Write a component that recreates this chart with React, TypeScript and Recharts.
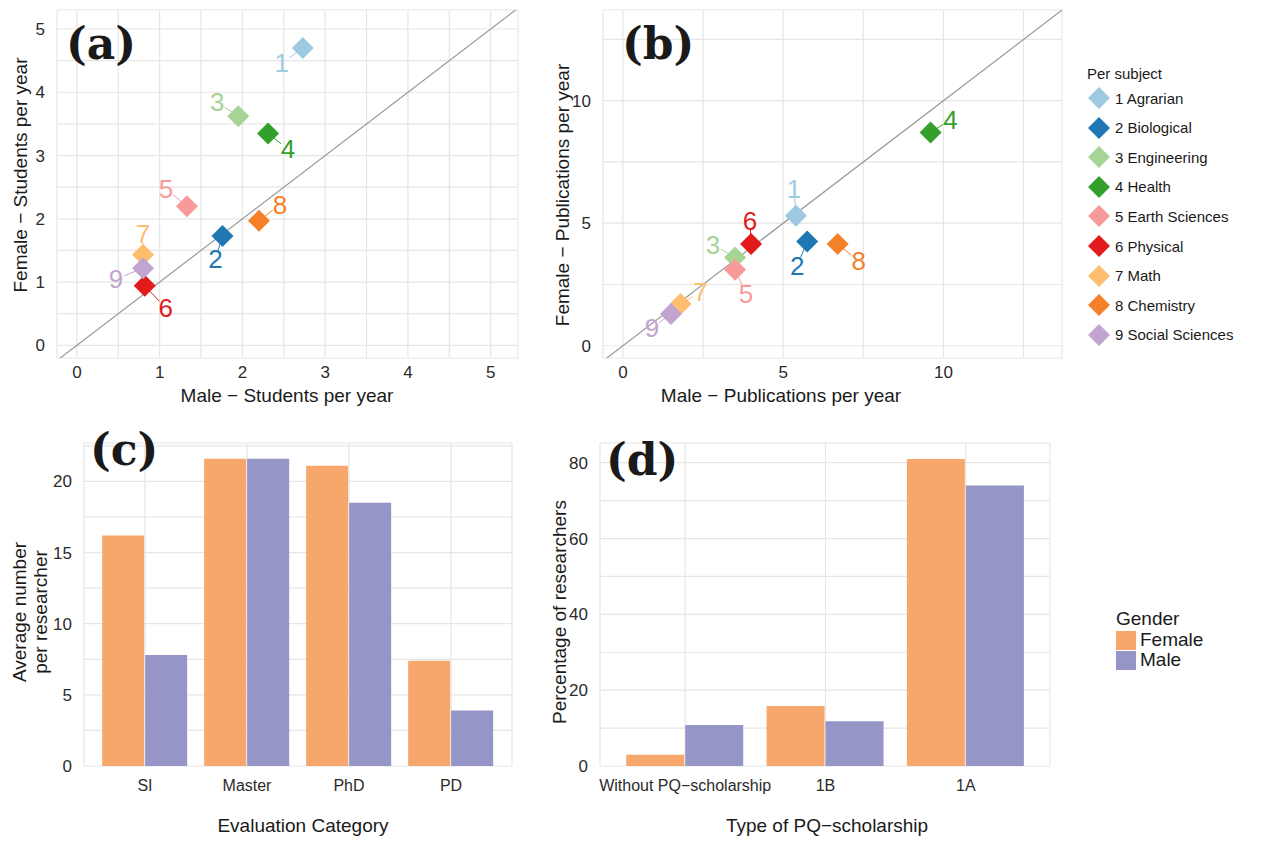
import React from "react";
import {
  ScatterChart,
  Scatter,
  BarChart,
  Bar,
  XAxis,
  YAxis,
  CartesianGrid,
  ReferenceLine,
} from "recharts";

const subjects = ["1 Agrarian", "2 Biological", "3 Engineering", "4 Health", "5 Earth Sciences", "6 Physical", "7 Math", "8 Chemistry", "9 Social Sciences"];
const subjectColors = ["#9ecae1", "#1f78b4", "#a6d495", "#33a02c", "#f89a99", "#e31a1c", "#fdbf6f", "#f5802a", "#c2a5cf"];

const studentsMale = [2.73, 1.76, 1.95, 2.31, 1.33, 0.82, 0.8, 2.2, 0.8];
const studentsFemale = [4.7, 1.73, 3.62, 3.35, 2.2, 0.94, 1.43, 1.97, 1.22];
const pubsMale = [5.4, 5.75, 3.5, 9.6, 3.5, 4.0, 1.8, 6.7, 1.5];
const pubsFemale = [5.3, 4.25, 3.6, 8.7, 3.1, 4.15, 1.7, 4.15, 1.3];

// label offsets (px) from each marker
const labelOffA = [[-21, 15], [-7, 23], [-21, -14], [20, 16], [-21, -17], [21, 22], [0, -21], [21, -16], [-27, 11]];
const labelOffB = [[-2, -27], [-10, 24], [-22, -13], [20, -13], [11, 24], [-1, -23], [20, -12], [21, 17], [-19, 14]];

const evalCats = ["SI", "Master", "PhD", "PD"];
const evalFemale = [16.2, 21.6, 21.1, 7.4];
const evalMale = [7.8, 21.6, 18.5, 3.9];

const pqCats = ["Without PQ\u2212scholarship", "1B", "1A"];
const pqFemale = [3, 15.8, 81];
const pqMale = [10.8, 11.8, 74];

const FEMALE = "#f8a76c";
const MALE = "#9595c8";
const FONT = "'Liberation Sans', Arial, sans-serif";
const GRID = "#e6e6e6";
const TICK = { fill: "#2b2b2b", fontSize: 17, fontFamily: FONT };

const dataA = studentsMale.map((x, i) => ({ x, y: studentsFemale[i], i }));
const dataB = pubsMale.map((x, i) => ({ x, y: pubsFemale[i], i }));
const dataC = evalCats.map((c, i) => ({ c, Female: evalFemale[i], Male: evalMale[i] }));
const dataD = pqCats.map((c, i) => ({ c, Female: pqFemale[i], Male: pqMale[i] }));

const makeShape = (offs: number[][]) => (props: any) => {
  const { cx, cy, payload } = props;
  const i = payload.i;
  const [dx, dy] = offs[i];
  const col = subjectColors[i];
  const len = Math.hypot(dx, dy);
  const r = 11;
  return (
    <g>
      <line x1={cx} y1={cy} x2={cx + (dx * (len - 9)) / len} y2={cy + (dy * (len - 9)) / len} stroke={col} strokeWidth={1} />
      <polygon points={`${cx},${cy - r} ${cx + r},${cy} ${cx},${cy + r} ${cx - r},${cy}`} fill={col} />
      <text x={cx + dx} y={cy + dy} fill={col} fontSize={26} fontFamily={FONT} textAnchor="middle" dominantBaseline="central">
        {i + 1}
      </text>
    </g>
  );
};

const range = (a: number, b: number, s: number) => {
  const out: number[] = [];
  for (let v = a; v <= b + 1e-9; v += s) out.push(Math.round(v * 100) / 100);
  return out;
};

const abs = (l: number, t: number, extra: React.CSSProperties = {}): React.CSSProperties => ({
  position: "absolute",
  left: l,
  top: t,
  fontFamily: FONT,
  color: "#1a1a1a",
  whiteSpace: "nowrap",
  ...extra,
});

const panelLetter = (s: string, l: number, t: number) => (
  <div style={abs(l, t, { fontFamily: "'DejaVu Serif', serif", fontWeight: "bold", fontSize: 44 })}>{s}</div>
);

const rotTitle = (s: string, cx: number, cy: number) => (
  <div style={abs(cx, cy, { fontSize: 19, transform: "translate(-50%,-50%) rotate(-90deg)", textAlign: "center", lineHeight: "21px", whiteSpace: "pre" })}>{s}</div>
);

const hTitle = (s: string, cx: number, t: number) => (
  <div style={abs(cx, t, { fontSize: 19, transform: "translateX(-50%)" })}>{s}</div>
);

export default function App() {
  const ticksA = range(0, 5, 0.5);
  const ticksB = range(0, 12.5, 2.5);
  return (
    <div style={{ position: "absolute", left: 0, top: 0, width: 1268, height: 842, background: "#fff", overflow: "hidden" }}>
      <div style={{ position: "absolute", left: 0, top: 0 }}>
        <ScatterChart width={530} height={410} margin={{ top: 10, right: 12, left: 17, bottom: 0 }}>
          <CartesianGrid stroke={GRID} strokeWidth={1.2} />
          <XAxis type="number" dataKey="x" domain={[-0.24, 5.33]} ticks={ticksA} interval={0} height={52} axisLine={false} tickLine={false} tickMargin={2} tick={TICK} tickFormatter={(v: number) => (v % 1 === 0 ? String(v) : "")} allowDataOverflow />
          <YAxis type="number" dataKey="y" domain={[-0.2, 5.3]} ticks={ticksA} interval={0} width={40} axisLine={false} tickLine={false} tickMargin={6} tick={TICK} tickFormatter={(v: number) => (v % 1 === 0 ? String(v) : "")} allowDataOverflow />
          <ReferenceLine segment={[{ x: -0.24, y: -0.24 }, { x: 5.33, y: 5.33 }]} stroke="#999" strokeWidth={1.2} ifOverflow="hidden" />
          <Scatter data={dataA} shape={makeShape(labelOffA)} isAnimationActive={false} />
        </ScatterChart>
      </div>
      <div style={{ position: "absolute", left: 540, top: 0 }}>
        <ScatterChart width={530} height={410} margin={{ top: 10, right: 8, left: 23, bottom: 0 }}>
          <CartesianGrid stroke={GRID} strokeWidth={1.2} />
          <XAxis type="number" dataKey="x" domain={[-0.62, 13.7]} ticks={ticksB} interval={0} height={52} axisLine={false} tickLine={false} tickMargin={2} tick={TICK} tickFormatter={(v: number) => (v % 5 === 0 ? String(v) : "")} allowDataOverflow />
          <YAxis type="number" dataKey="y" domain={[-0.5, 13.7]} ticks={ticksB} interval={0} width={40} axisLine={false} tickLine={false} tickMargin={6} tick={TICK} tickFormatter={(v: number) => (v % 5 === 0 ? String(v) : "")} allowDataOverflow />
          <ReferenceLine segment={[{ x: -0.62, y: -0.62 }, { x: 13.7, y: 13.7 }]} stroke="#999" strokeWidth={1.2} ifOverflow="hidden" />
          <Scatter data={dataB} shape={makeShape(labelOffB)} isAnimationActive={false} />
        </ScatterChart>
      </div>
      <div style={{ position: "absolute", left: 0, top: 410 }}>
        <BarChart data={dataC} width={530} height={432} margin={{ top: 33, right: 18, left: 44, bottom: 0 }} barCategoryGap="8%" barGap={1}>
          <CartesianGrid stroke={GRID} strokeWidth={1.2} />
          <XAxis dataKey="c" height={76} padding={{ left: 10, right: 10 }} axisLine={false} tickLine={false} tickMargin={8} tick={{ ...TICK, fontSize: 16 }} />
          <YAxis domain={[0, 22.7]} ticks={range(0, 22.5, 2.5)} interval={0} width={40} axisLine={false} tickLine={false} tickMargin={6} tick={TICK} tickFormatter={(v: number) => (v % 5 === 0 ? String(v) : "")} allowDataOverflow />
          <Bar dataKey="Female" fill={FEMALE} isAnimationActive={false} />
          <Bar dataKey="Male" fill={MALE} isAnimationActive={false} />
        </BarChart>
      </div>
      <div style={{ position: "absolute", left: 540, top: 410 }}>
        <BarChart data={dataD} width={530} height={432} margin={{ top: 33, right: 20, left: 20, bottom: 0 }} barCategoryGap="8%" barGap={1}>
          <CartesianGrid stroke={GRID} strokeWidth={1.2} />
          <XAxis dataKey="c" height={76} padding={{ left: 15, right: 14 }} axisLine={false} tickLine={false} tickMargin={8} tick={{ ...TICK, fontSize: 16 }} interval={0} />
          <YAxis domain={[0, 85.2]} ticks={range(0, 80, 10)} interval={0} width={40} axisLine={false} tickLine={false} tickMargin={6} tick={TICK} tickFormatter={(v: number) => (v % 20 === 0 ? String(v) : "")} allowDataOverflow />
          <Bar dataKey="Female" fill={FEMALE} isAnimationActive={false} />
          <Bar dataKey="Male" fill={MALE} isAnimationActive={false} />
        </BarChart>
      </div>

      {panelLetter("(a)", 66, 18)}
      {panelLetter("(b)", 622, 18)}
      {panelLetter("(c)", 90, 424)}
      {panelLetter("(d)", 606, 434)}

      {hTitle("Male \u2212 Students per year", 287, 385)}
      {rotTitle("Female \u2212 Students per year", 20, 175)}
      {hTitle("Male \u2212 Publications per year", 781, 385)}
      {rotTitle("Female \u2212 Publications per year", 562, 195)}
      {hTitle("Evaluation Category", 303, 815)}
      {rotTitle("Average number\nper researcher", 30, 612)}
      {hTitle("Type of PQ\u2212scholarship", 827, 815)}
      {rotTitle("Percentage of researchers", 559, 612)}

      <div style={abs(1087, 65, { fontSize: 15 })}>Per subject</div>
      {subjects.map((s, i) => (
        <div key={s} style={abs(1087, 87 + i * 29.6, { fontSize: 15, display: "flex", alignItems: "center", height: 22 })}>
          <svg width={24} height={22}>
            <polygon points="12,0 23,11 12,22 1,11" fill={subjectColors[i]} />
          </svg>
          <span style={{ marginLeft: 4 }}>{s}</span>
        </div>
      ))}

      <div style={abs(1116, 608, { fontSize: 19 })}>Gender</div>
      {["Female", "Male"].map((g, i) => (
        <div key={g} style={abs(1116, 630 + i * 20, { fontSize: 19, display: "flex", alignItems: "center", height: 20 })}>
          <div style={{ width: 20, height: 19, background: i === 0 ? FEMALE : MALE }} />
          <span style={{ marginLeft: 4 }}>{g}</span>
        </div>
      ))}
    </div>
  );
}
